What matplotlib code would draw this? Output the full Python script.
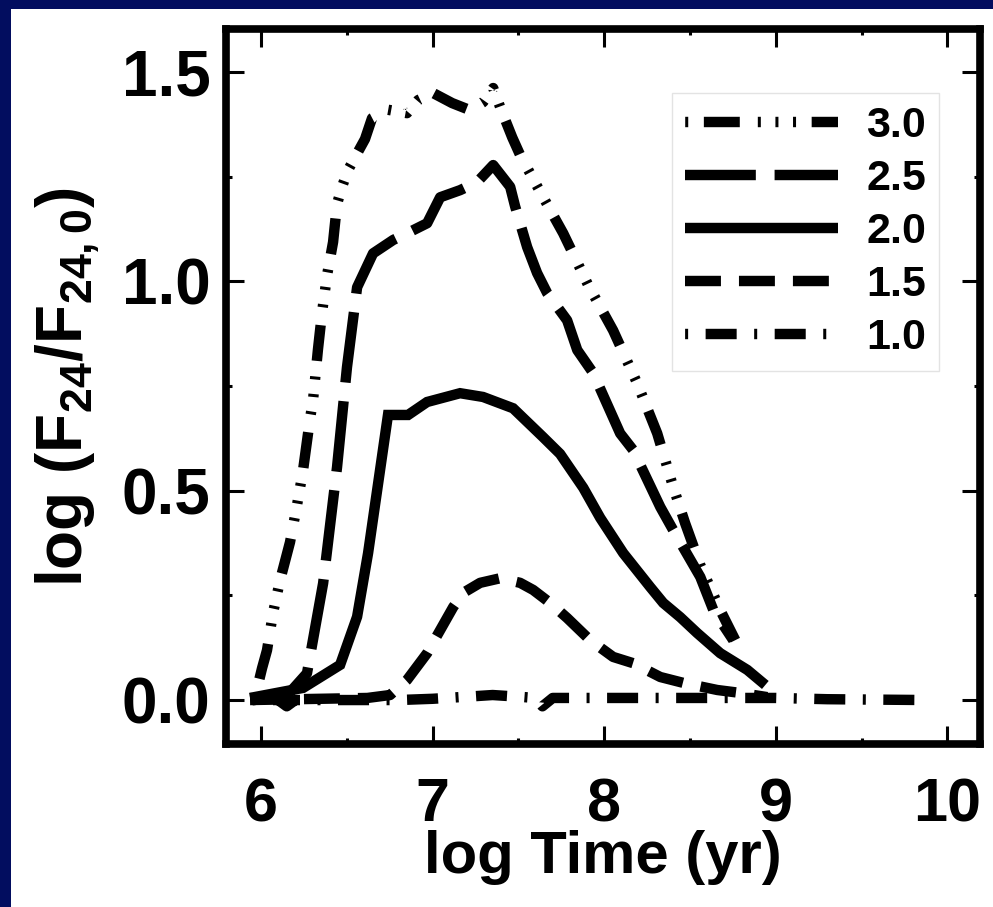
import matplotlib
matplotlib.use("Agg")
import matplotlib.pyplot as plt
from matplotlib.patches import Rectangle

# ---------------- data ----------------
labels = ["3.0", "2.5", "2.0", "1.5", "1.0"]

x_30 = [5.965, 6.006, 6.035, 6.07, 6.111, 6.169, 6.21, 6.245, 6.286, 6.303, 6.332, 6.356,
        6.385, 6.42, 6.443, 6.472, 6.507, 6.606, 6.647, 6.741, 6.851, 6.915, 7.003, 7.114,
        7.219, 7.294, 7.353, 7.394, 7.464, 7.51, 7.615, 7.761, 7.907, 8.052, 8.192, 8.309,
        8.402, 8.472, 8.56, 8.676, 8.764]
y_30 = [0.007, 0.076, 0.119, 0.208, 0.286, 0.377, 0.466, 0.549, 0.673, 0.716, 0.838, 0.927,
        1.015, 1.094, 1.185, 1.226, 1.266, 1.34, 1.39, 1.41, 1.402, 1.433, 1.45, 1.426,
        1.409, 1.428, 1.462, 1.416, 1.344, 1.302, 1.223, 1.115, 0.991, 0.883, 0.757, 0.637,
        0.509, 0.422, 0.322, 0.215, 0.143]

x_25 = [5.95, 6.15, 6.268, 6.362, 6.443, 6.501, 6.56, 6.653, 6.77, 6.851, 6.968, 7.044,
        7.16, 7.259, 7.353, 7.452, 7.481, 7.551, 7.609, 7.668, 7.784, 7.843, 7.936, 8.093,
        8.169, 8.327, 8.402, 8.56, 8.636, 8.752]
y_25 = [0.0, 0.01, 0.064, 0.279, 0.556, 0.795, 0.986, 1.067, 1.099, 1.115, 1.139, 1.201,
        1.218, 1.237, 1.278, 1.226, 1.179, 1.082, 1.02, 0.972, 0.907, 0.836, 0.781, 0.637,
        0.597, 0.461, 0.406, 0.294, 0.215, 0.143]

x_20 = [5.936, 6.245, 6.461, 6.56, 6.624, 6.74, 6.857, 6.968, 7.16, 7.294, 7.469, 7.644,
        7.743, 7.878, 7.977, 8.111, 8.268, 8.344, 8.443, 8.542, 8.676, 8.834, 8.939]
y_20 = [0.005, 0.029, 0.084, 0.199, 0.351, 0.681, 0.681, 0.712, 0.733, 0.724, 0.697, 0.628,
        0.588, 0.507, 0.435, 0.351, 0.270, 0.232, 0.198, 0.160, 0.112, 0.072, 0.036]

x_15 = [5.936, 6.62, 6.752, 6.851, 6.968, 7.12, 7.178, 7.277, 7.394, 7.51, 7.586, 7.685,
        7.784, 7.918, 8.052, 8.169, 8.327, 8.461, 8.659, 8.793, 8.95]
y_15 = [0.0, 0.005, 0.012, 0.048, 0.112, 0.222, 0.256, 0.280, 0.291, 0.280, 0.263, 0.232,
        0.196, 0.143, 0.103, 0.088, 0.055, 0.041, 0.024, 0.017, 0.007]

x_10 = [5.95, 6.1, 6.15, 6.2, 6.5, 6.8, 7.0, 7.2, 7.35, 7.5, 7.6, 7.64, 7.7, 8.0, 8.5,
        9.0, 9.3, 9.88]
y_10 = [0.0, 0.0, -0.015, 0.0, 0.0, 0.0, 0.003, 0.008, 0.012, 0.008, 0.005, -0.015, 0.005,
        0.005, 0.005, 0.005, 0.002, 0.0]

x_major = [6, 7, 8, 9, 10]
x_minor = [6.5, 7.5, 8.5, 9.5]
y_major = [0.0, 0.5, 1.0, 1.5]
y_minor = [0.25, 0.75, 1.25]
x_ticklabels = ["6", "7", "8", "9", "10"]
y_ticklabels = ["0.0", "0.5", "1.0", "1.5"]

# ---------------- styling ----------------
plt.rcParams["font.family"] = ["Liberation Sans", "DejaVu Sans"]
plt.rcParams["font.weight"] = "bold"
plt.rcParams["mathtext.fontset"] = "custom"
plt.rcParams["mathtext.rm"] = "Liberation Sans:bold"
plt.rcParams["mathtext.bf"] = "Liberation Sans:bold"
plt.rcParams["mathtext.it"] = "Liberation Sans:bold:italic"
plt.rcParams["mathtext.default"] = "rm"

LW = 7.5
styles = {
    "3.0": (8.54, (3.45, 1.73, 0.29, 1.4, 0.29, 1.4, 0.29, 1.5)),
    "2.5": (0, (6.8, 1.8)),
    "2.0": "solid",
    "1.5": (0, (3.45, 1.73)),
    "1.0": (4.65, (2.98, 1.68, 0.29, 1.68)),
}

fig = plt.figure(figsize=(9.93, 9.07), dpi=100)
fig.patch.set_facecolor("#020d5f")
fig.add_artist(Rectangle((11 / 993, -0.1), 1.2, 0.1 + (907 - 9) / 907,
                         transform=fig.transFigure,
                         facecolor="white", edgecolor="none", zorder=-10))

ax = fig.add_axes([226 / 993, (907 - 744) / 907, 754 / 993, 715 / 907])
ax.set_facecolor("white")

series = [("3.0", x_30, y_30), ("2.5", x_25, y_25), ("2.0", x_20, y_20),
          ("1.5", x_15, y_15), ("1.0", x_10, y_10)]
for lab, xs, ys in series:
    ax.plot(xs, ys, color="black", lw=LW, linestyle=styles[lab], label=lab,
            solid_joinstyle="miter", dash_capstyle="butt", solid_capstyle="butt")

ax.set_xlim(5.796, 10.19)
ax.set_ylim(-0.105, 1.603)
ax.set_xticks(x_major)
ax.set_xticklabels(x_ticklabels)
ax.set_xticks(x_minor, minor=True)
ax.set_yticks(y_major)
ax.set_yticklabels(y_ticklabels)
ax.set_yticks(y_minor, minor=True)

ax.tick_params(which="both", direction="in", top=True, right=True, width=2.2, color="black")
ax.tick_params(which="major", length=13)
ax.tick_params(which="minor", length=4.5)
ax.tick_params(axis="x", which="major", pad=24, labelsize=44)
ax.tick_params(axis="y", which="major", pad=11, labelsize=46)
for lab in ax.get_xticklabels() + ax.get_yticklabels():
    lab.set_fontweight("bold")

for sp in ax.spines.values():
    sp.set_linewidth(5.5)
    sp.set_capstyle("projecting")

ax.set_xlabel("log Time (yr)", fontsize=43, fontweight="bold")
ax.xaxis.set_label_coords(0.5, -0.12)
ax.set_ylabel(r"log (F$_{24}$/F$_{24,0}$)", fontsize=46, fontweight="bold")
ax.yaxis.set_label_coords(-0.165, 0.5)

leg = ax.legend(loc="upper right", bbox_to_anchor=(939 / 993, (907 - 93) / 907),
                bbox_transform=fig.transFigure, frameon=True, fancybox=False,
                fontsize=31, handlelength=3.55, handletextpad=0.65,
                labelspacing=0.3, borderpad=0.3, borderaxespad=0.0)
leg.get_frame().set_edgecolor("#dddddd")
leg.get_frame().set_linewidth(1.0)
for t in leg.get_texts():
    t.set_fontweight("bold")

fig.savefig("out.png", dpi=100, facecolor=fig.get_facecolor())
